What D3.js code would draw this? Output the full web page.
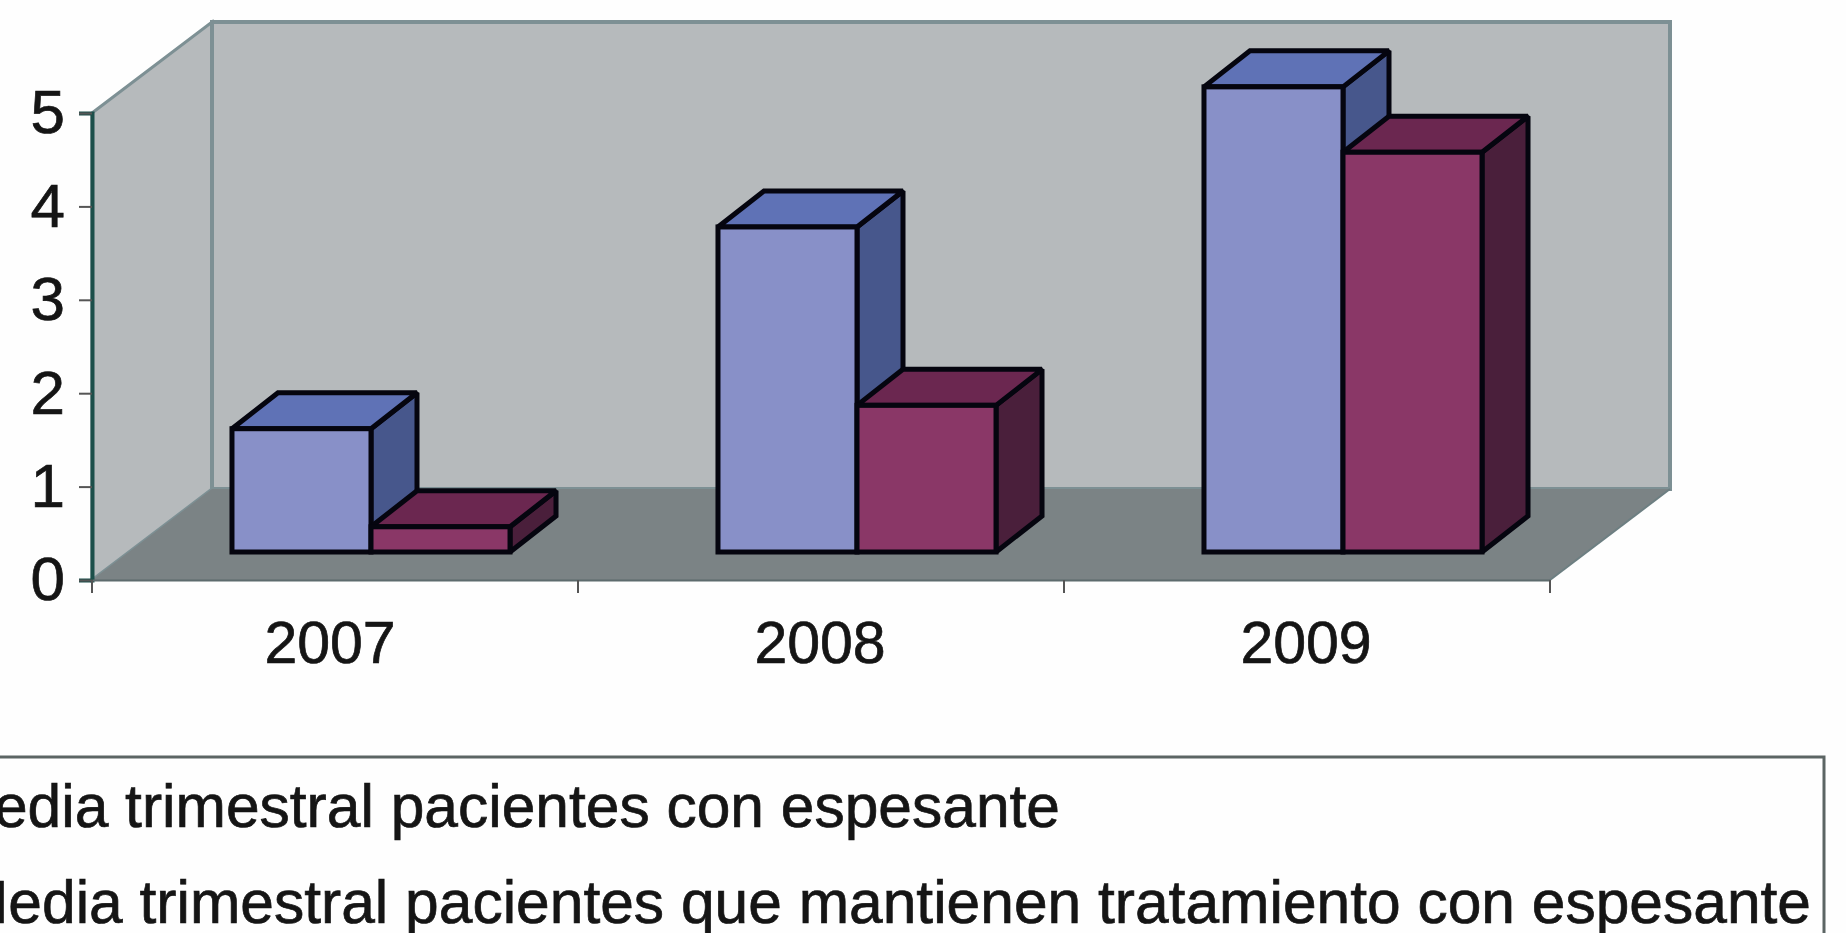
<!DOCTYPE html>
<html>
<head>
<meta charset="utf-8">
<script src="https://cdnjs.cloudflare.com/ajax/libs/d3/7.8.5/d3.min.js"></script>
<style>
body{margin:0;background:#fefefe;overflow:hidden}
svg{filter:blur(0.7px)}
text{font-family:"Liberation Sans",Arial,sans-serif;fill:#151515;stroke:#151515;stroke-width:0.7px}
</style>
</head>
<body>
<svg width="1846" height="933"></svg>
<script>
var years = ["2007","2008","2009"];
var seriesNames = ["Media trimestral pacientes con espesante","Media trimestral pacientes que mantienen tratamiento con espesante"];
var conEspesante = [1.32,3.48,4.98];
var mantienen = [0.27,1.57,4.28];
var yTicks = [0,1,2,3,4,5];

var mySVG = d3.select("svg");

var y = d3.scaleLinear().domain([0,5]).range([580,113]);
var x = d3.scaleBand().domain(years).range([92,1550]);
var xIn = d3.scaleBand().domain([0,1]).range([0,x.bandwidth()]).paddingInner(0).paddingOuter(0.748);

// depth of the box and where the bars stand inside it
var wallDx = 120, wallDy = 91;
var barDx = 46, barDy = 36;
var shiftX = 36, shiftY = 28;

var top5 = y(5), base = y(0), xL = x.range()[0], xR = x.range()[1];

function poly(pts){ return pts.map(function(p){return p.join(",");}).join(" "); }

// walls and floor
mySVG.append("polygon")
    .attr("points",poly([[xL,top5],[xL+wallDx,top5-wallDy],[xL+wallDx,base-wallDy],[xL,base]]))
    .attr("fill","#b6babc").attr("stroke","#7d9094").attr("stroke-width",3);
mySVG.append("polygon")
    .attr("points",poly([[xL+wallDx,top5-wallDy],[xR+wallDx,top5-wallDy],[xR+wallDx,base-wallDy],[xL+wallDx,base-wallDy]]))
    .attr("fill","#b6babc").attr("stroke","#7d9094").attr("stroke-width",4);
mySVG.append("polygon")
    .attr("points",poly([[xL,base],[xL+wallDx,base-wallDy],[xR+wallDx,base-wallDy],[xR,base]]))
    .attr("fill","#7b8385").attr("stroke","none");
mySVG.append("line")
    .attr("x1",xR).attr("y1",base).attr("x2",xR+wallDx).attr("y2",base-wallDy)
    .attr("stroke","#6d7f82").attr("stroke-width",2);

// bars: two series, blue first so the maroon one sits over its side
var colors = [
    {face:"#8890c8",top:"#5f72b6",side:"#47578c"},
    {face:"#8a3767",top:"#6b2750",side:"#4a1f3b"}
];
[conEspesante,mantienen].forEach(function(values,s){
    var g = mySVG.append("g").selectAll("g").data(values).enter().append("g")
        .attr("stroke","#05050f").attr("stroke-width",5)
        .attr("stroke-linejoin","miter").attr("stroke-miterlimit",1.5);
    function x0(i){ return x(years[i])+xIn(s)+shiftX; }
    function x1(i){ return x0(i)+xIn.bandwidth(); }
    var y0 = base-shiftY;
    function yT(d){ return y(d)-shiftY; }
    g.append("polygon").attr("fill",colors[s].side)
        .attr("points",function(d,i){ return poly([[x1(i),yT(d)],[x1(i)+barDx,yT(d)-barDy],[x1(i)+barDx,y0-barDy],[x1(i),y0]]); });
    g.append("polygon").attr("fill",colors[s].top)
        .attr("points",function(d,i){ return poly([[x0(i),yT(d)],[x0(i)+barDx,yT(d)-barDy],[x1(i)+barDx,yT(d)-barDy],[x1(i),yT(d)]]); });
    g.append("rect").attr("fill",colors[s].face)
        .attr("x",function(d,i){return x0(i);})
        .attr("y",function(d){return yT(d);})
        .attr("width",xIn.bandwidth())
        .attr("height",function(d){return y0-yT(d);});
});

// axes
var yAxis = mySVG.append("g").attr("transform","translate("+xL+",0)")
    .call(d3.axisLeft(y).tickValues(yTicks).tickSize(13).tickPadding(14).tickFormat(d3.format("d")));
yAxis.select(".domain").attr("stroke","#1c4f4a").attr("stroke-width",4);
yAxis.selectAll("line").attr("stroke","#555").attr("stroke-width",2);
yAxis.selectAll("text").attr("font-size",62).attr("font-family",null);

var xAxis = mySVG.append("g").attr("transform","translate(0,"+base+")")
    .call(d3.axisBottom(x).tickSize(0).tickPadding(41));
xAxis.select(".domain").attr("stroke","#5d6b6d").attr("stroke-width",2);
xAxis.selectAll("text").attr("font-size",59).attr("font-family",null).attr("dy","0.72em")
    .attr("dx",function(d,i){return i==0 ? -5 : -1;});
xAxis.selectAll(".edge").data([xL].concat(years.map(function(d){return x(d)+x.bandwidth();})))
    .enter().append("line").attr("class","edge")
    .attr("x1",function(d){return d;}).attr("x2",function(d){return d;})
    .attr("y1",0).attr("y2",13)
    .attr("stroke","#555").attr("stroke-width",2);

// legend, its left side runs off the picture
mySVG.append("rect").attr("x",-40).attr("y",757).attr("width",1864).attr("height",260)
    .attr("fill","#fefefe").attr("stroke","#5c6564").attr("stroke-width",3);
var legendEnd = [1060,1811], legendBase = [827,923];
mySVG.selectAll(".leg").data(seriesNames).enter().append("text").attr("class","leg")
    .attr("x",function(d,i){return legendEnd[i];})
    .attr("y",function(d,i){return legendBase[i];})
    .attr("text-anchor","end")
    .attr("font-size",60.5)
    .text(function(d){return d;});
</script>
</body>
</html>
